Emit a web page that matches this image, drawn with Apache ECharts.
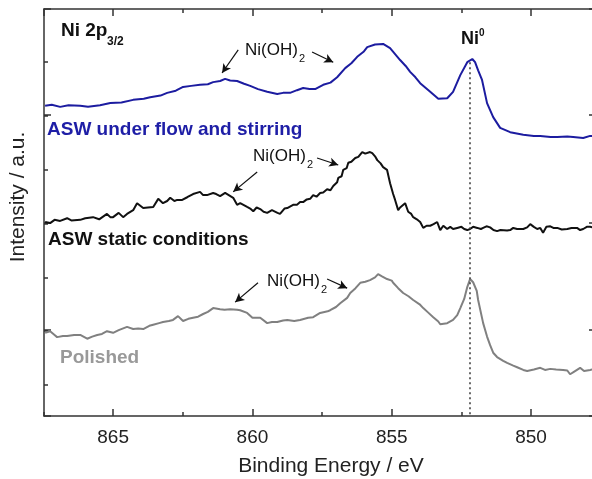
<!DOCTYPE html>
<html><head><meta charset="utf-8">
<script src="https://cdn.jsdelivr.net/npm/echarts@6/dist/echarts.min.js"></script>
<style>html,body{margin:0;padding:0;background:#fff}#c{width:592px;height:479px}</style>
</head><body><div id="c"></div>
<script>
// Binding energy (eV) / intensity (a.u., offset per spectrum)
const flowSpectrum = [[867.44,5.19],[867.2,5.21],[866.9,5.17],[866.6,5.20],[866.18,5.19],[865.9,5.17],[865.47,5.20],[865.1,5.24],[864.7,5.25],[864.28,5.30],[863.9,5.32],[863.67,5.35],[863.3,5.38],[863.06,5.43],[862.75,5.47],[862.49,5.54],[862.2,5.56],[861.88,5.58],[861.6,5.59],[861.41,5.63],[861.16,5.65],[860.98,5.69],[860.8,5.66],[860.55,5.65],[860.3,5.60],[860.08,5.56],[859.8,5.50],[859.47,5.45],[859.11,5.41],[858.9,5.43],[858.65,5.43],[858.4,5.48],[858.18,5.52],[857.95,5.50],[857.75,5.50],[857.46,5.58],[857.2,5.62],[856.96,5.72],[856.67,5.89],[856.45,5.98],[856.24,6.10],[856.0,6.20],[855.88,6.28],[855.6,6.33],[855.31,6.34],[855.06,6.26],[854.88,6.15],[854.7,6.04],[854.5,5.93],[854.34,5.82],[854.15,5.72],[853.98,5.61],[853.8,5.53],[853.62,5.45],[853.33,5.32],[853.01,5.33],[852.8,5.45],[852.54,5.76],[852.29,6.00],[852.11,6.06],[852.01,6.00],[851.9,5.85],[851.76,5.67],[851.58,5.24],[851.36,4.98],[851.11,4.78],[850.75,4.70],[850.28,4.65],[849.9,4.63],[849.67,4.63],[849.3,4.61],[849.06,4.61],[848.7,4.62],[848.49,4.61],[848.13,4.59],[847.88,4.63],[847.52,4.61]];
const staticSpectrum = [[867.44,3.03],[867.37,3.03],[867.26,3.01],[867.1,3.07],[866.9,3.05],[866.65,3.10],[866.5,3.06],[866.18,3.07],[866.0,3.10],[865.72,3.12],[865.5,3.08],[865.22,3.18],[865.1,3.12],[865.0,3.12],[864.8,3.20],[864.64,3.12],[864.5,3.18],[864.28,3.25],[864.14,3.38],[863.92,3.29],[863.75,3.30],[863.56,3.31],[863.38,3.46],[863.21,3.38],[863.06,3.42],[862.95,3.48],[862.8,3.42],[862.7,3.44],[862.52,3.44],[862.34,3.49],[862.13,3.55],[861.88,3.59],[861.77,3.53],[861.63,3.53],[861.41,3.57],[861.3,3.55],[861.16,3.51],[860.98,3.57],[860.91,3.59],[860.69,3.48],[860.55,3.35],[860.44,3.38],[860.19,3.31],[860.08,3.28],[859.97,3.23],[859.85,3.30],[859.72,3.27],[859.6,3.22],[859.47,3.20],[859.3,3.25],[859.26,3.25],[859.1,3.20],[859.01,3.18],[858.85,3.28],[858.75,3.29],[858.54,3.35],[858.4,3.35],[858.29,3.40],[858.18,3.40],[858.05,3.45],[857.93,3.46],[857.82,3.53],[857.7,3.50],[857.57,3.57],[857.46,3.58],[857.32,3.64],[857.2,3.62],[857.1,3.70],[856.96,3.77],[856.92,3.85],[856.8,3.88],[856.74,4.00],[856.62,4.03],[856.56,4.13],[856.45,4.15],[856.31,4.22],[856.2,4.24],[856.06,4.33],[855.95,4.30],[855.88,4.31],[855.78,4.33],[855.7,4.31],[855.6,4.25],[855.52,4.18],[855.4,4.12],[855.31,4.05],[855.17,4.00],[855.06,3.75],[854.95,3.55],[854.88,3.44],[854.77,3.25],[854.7,3.30],[854.63,3.31],[854.52,3.38],[854.41,3.22],[854.3,3.18],[854.23,3.12],[854.1,3.08],[853.98,3.03],[853.87,2.92],[853.75,2.96],[853.62,2.96],[853.5,2.99],[853.37,3.03],[853.26,2.88],[853.15,2.96],[853.01,2.90],[852.9,2.94],[852.8,2.90],[852.65,2.92],[852.5,2.94],[852.4,2.90],[852.29,2.88],[852.19,2.90],[852.08,2.94],[851.93,2.92],[851.8,2.90],[851.72,2.92],[851.6,2.95],[851.47,2.93],[851.35,2.88],[851.22,2.86],[851.1,2.88],[850.86,2.87],[850.75,2.88],[850.64,2.92],[850.5,2.90],[850.28,2.90],[850.14,2.93],[850.03,2.99],[849.9,2.94],[849.78,2.90],[849.67,2.92],[849.57,2.83],[849.45,2.94],[849.31,2.95],[849.2,2.92],[849.06,2.92],[848.9,2.89],[848.7,2.90],[848.55,2.92],[848.35,2.92],[848.24,2.88],[848.13,2.90],[848.0,2.94],[847.88,2.94],[847.7,2.92],[847.52,2.90]];
const polishedSpectrum = [[867.44,0.97],[867.26,1.00],[867.1,0.93],[867.01,0.89],[866.8,0.91],[866.65,0.91],[866.4,0.93],[866.18,0.93],[865.93,0.86],[865.75,0.90],[865.57,0.93],[865.4,0.95],[865.22,1.00],[865.0,0.97],[864.8,1.02],[864.5,1.08],[864.28,1.04],[864.1,1.05],[863.92,1.04],[863.7,1.10],[863.56,1.12],[863.35,1.15],[863.21,1.17],[863.0,1.19],[862.85,1.21],[862.67,1.28],[862.49,1.19],[862.3,1.23],[862.13,1.25],[861.95,1.27],[861.77,1.32],[861.6,1.36],[861.41,1.43],[861.16,1.41],[861.0,1.40],[860.8,1.41],[860.55,1.40],[860.44,1.39],[860.19,1.34],[860.0,1.25],[859.72,1.25],[859.47,1.15],[859.3,1.17],[859.11,1.17],[858.9,1.20],[858.75,1.21],[858.5,1.19],[858.29,1.21],[858.0,1.25],[857.82,1.26],[857.57,1.34],[857.3,1.37],[857.21,1.39],[857.0,1.45],[856.85,1.52],[856.6,1.62],[856.49,1.71],[856.3,1.80],[856.13,1.90],[855.95,1.92],[855.78,1.95],[855.6,2.00],[855.49,2.06],[855.35,2.02],[855.17,1.97],[855.0,1.94],[854.95,1.90],[854.77,1.80],[854.59,1.71],[854.4,1.65],[854.23,1.58],[854.0,1.50],[853.87,1.43],[853.7,1.35],[853.51,1.26],[853.33,1.18],[853.26,1.13],[853.01,1.15],[852.8,1.21],[852.65,1.30],[852.54,1.43],[852.4,1.60],[852.29,1.82],[852.19,1.97],[852.08,1.91],[851.95,1.75],[851.9,1.58],[851.72,1.15],[851.58,0.90],[851.47,0.74],[851.36,0.60],[851.22,0.52],[851.0,0.45],[850.86,0.41],[850.64,0.36],[850.5,0.33],[850.28,0.28],[850.14,0.26],[849.9,0.29],[849.67,0.32],[849.5,0.28],[849.31,0.30],[849.1,0.29],[848.85,0.28],[848.7,0.27],[848.6,0.20],[848.45,0.25],[848.24,0.32],[848.1,0.26],[847.88,0.28],[847.7,0.30],[847.52,0.27]];
const seriesNames = ['ASW under flow and stirring', 'ASW static conditions', 'Polished'];
const xTickLabels = [865, 860, 855, 850];
const ni0Energy = 852.2;
// arrows [fromE, fromI, toE, toI]
const arrows = [
  [860.51, 6.23, 861.09, 5.80], [857.86, 6.19, 857.10, 6.00],
  [859.83, 3.96, 860.69, 3.59], [857.68, 4.22, 856.92, 4.09],
  [859.80, 1.90, 860.62, 1.54], [857.32, 1.97, 856.60, 1.80]
];

const X_MIN = 847.67, X_MAX = 867.48, Y_MIN = -0.576, Y_MAX = 6.989, Y_SHIFT = 1.022;
const FONT = "'Liberation Sans', Arial, sans-serif";
const AX = '#333';

function xAx(pos, major, labels) {
  return {
    type: 'value', position: pos, min: X_MIN, max: X_MAX, inverse: true,
    minInterval: major ? 5 : 2.5, maxInterval: major ? 5 : 2.5,
    axisLine: { show: major, onZero: false, lineStyle: { color: AX, width: 1.5 } },
    axisTick: { show: true, inside: true, length: major ? 7 : 4, lineStyle: { color: AX, width: 1.5 } },
    axisLabel: {
      show: labels, margin: 12, fontSize: 19, fontFamily: FONT, color: '#222',
      showMinLabel: false, showMaxLabel: false,
      formatter: v => (xTickLabels.indexOf(Math.round(v * 100) / 100) >= 0 ? String(v) : '')
    },
    splitLine: { show: false }
  };
}
function yAx(pos, major) {
  return {
    type: 'value', position: pos,
    min: major ? Y_MIN - Y_SHIFT : Y_MIN, max: major ? Y_MAX - Y_SHIFT : Y_MAX,
    minInterval: major ? 2 : 1, maxInterval: major ? 2 : 1,
    axisLine: { show: !major, onZero: false, lineStyle: { color: AX, width: 1.5 } },
    axisTick: { show: true, inside: true, length: major ? 7 : 4, lineStyle: { color: AX, width: 1.5 } },
    axisLabel: { show: false },
    splitLine: { show: false }
  };
}

const chart = echarts.init(document.getElementById('c'), null, { renderer: 'canvas' });

const txt = (text, x, y, size, weight, fill, align, extra) => Object.assign({
  type: 'text', x: x, y: y,
  style: { text: text, fontSize: size, fontWeight: weight, fontFamily: FONT, fill: fill,
    align: align || 'left', verticalAlign: 'middle', textAlign: align || 'left', textVerticalAlign: 'middle' }
}, extra || {});

const arrowLines = arrows.map(a => [
  { coord: [a[0], a[1]], symbol: 'none' },
  { coord: [a[2], a[3]], symbol: 'arrow', symbolSize: [7, 9] }
]);

chart.setOption({
  animation: false,
  backgroundColor: '#fff',
  grid: { left: 44, top: 9, width: 552, height: 407, containLabel: false, outerBoundsMode: 'none' },
  xAxis: [xAx('bottom', true, true), xAx('bottom', false, false), xAx('top', true, false), xAx('top', false, false)],
  yAxis: [yAx('left', false), yAx('left', true), yAx('right', false), yAx('right', true)],
  series: [
    { name: seriesNames[0], type: 'line', data: flowSpectrum, showSymbol: false, symbol: 'none',
      lineStyle: { color: '#1c1ca0', width: 2 }, itemStyle: { color: '#1c1ca0' },
      markLine: { silent: true, animation: false, label: { show: false },
        lineStyle: { color: '#111', width: 1.2, type: 'solid' }, data: arrowLines } },
    { name: seriesNames[1], type: 'line', data: staticSpectrum, showSymbol: false, symbol: 'none',
      lineStyle: { color: '#111', width: 2 }, itemStyle: { color: '#111' },
      markLine: { silent: true, animation: false, symbol: 'none', label: { show: false },
        lineStyle: { color: '#444', width: 1.6, type: [2, 3] },
        data: [[{ coord: [ni0Energy, 6.0] }, { coord: [ni0Energy, Y_MIN] }]] } },
    { name: seriesNames[2], type: 'line', data: polishedSpectrum, showSymbol: false, symbol: 'none',
      lineStyle: { color: '#808080', width: 2 }, itemStyle: { color: '#808080' } }
  ],
  graphic: [
    txt('Ni 2p', 61, 31, 19, 'bold', '#111'),
    txt('3/2', 107, 42, 12, 'bold', '#111'),
    txt('Ni', 461, 39, 18, 'bold', '#111'),
    txt('0', 479, 33, 10, 'bold', '#111'),
    txt('Ni(OH)', 245, 50, 17, 'normal', '#111'),
    txt('2', 299, 59, 11, 'normal', '#111'),
    txt('Ni(OH)', 253, 156, 17, 'normal', '#111'),
    txt('2', 307, 165, 11, 'normal', '#111'),
    txt('Ni(OH)', 267, 281, 17, 'normal', '#111'),
    txt('2', 321, 290, 11, 'normal', '#111'),
    txt(seriesNames[0], 47, 130, 19, 'bold', '#1e1ea6'),
    txt(seriesNames[1], 48, 240, 19, 'bold', '#111'),
    txt(seriesNames[2], 60, 358, 19, 'bold', '#999'),
    txt('Binding Energy / eV', 331, 466, 21, 'normal', '#222', 'center'),
    txt('Intensity / a.u.', 18, 197, 21, 'normal', '#222', 'center', { rotation: Math.PI / 2 })
  ]
});
</script></body></html>
